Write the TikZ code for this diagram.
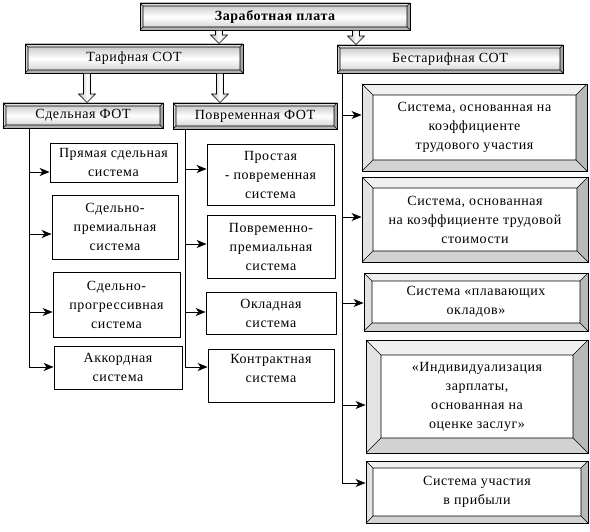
\documentclass[tikz,border=0pt]{standalone}
\usepackage{fontspec}
\setmainfont[LetterSpace=4]{Liberation Serif}
\usetikzlibrary{arrows.meta,calc}
\tikzset{
  bevel/.style args={#1/#2/#3/#4/#5}{
    path picture={
      \coordinate (bvnw) at (path picture bounding box.north west);
      \coordinate (bvne) at (path picture bounding box.north east);
      \coordinate (bvsw) at (path picture bounding box.south west);
      \coordinate (bvse) at (path picture bounding box.south east);
      \coordinate (bvinw) at ([xshift=#1pt,yshift=-#1pt]bvnw);
      \coordinate (bvine) at ([xshift=-#1pt,yshift=-#1pt]bvne);
      \coordinate (bvisw) at ([xshift=#1pt,yshift=#1pt]bvsw);
      \coordinate (bvise) at ([xshift=-#1pt,yshift=#1pt]bvse);
      \fill[#2] (bvnw) -- (bvne) -- (bvine) -- (bvinw) -- cycle;
      \fill[#3] (bvnw) -- (bvsw) -- (bvisw) -- (bvinw) -- cycle;
      \fill[#4] (bvne) -- (bvse) -- (bvise) -- (bvine) -- cycle;
      \fill[#5] (bvsw) -- (bvse) -- (bvise) -- (bvisw) -- cycle;
      \draw[line width=0.7pt] (bvinw) rectangle (bvise)
        (bvnw) -- (bvinw) (bvne) -- (bvine) (bvsw) -- (bvisw) (bvse) -- (bvise);
    }},
  hdr/.style={draw, line width=0.9pt, inner sep=0pt,
    top color=gray!50, bottom color=gray!40, middle color=white,
    bevel={3/gray!25/gray!35/gray!70/gray!60},
    font=\fontsize{14}{16}\selectfont},
  plainbox/.style={draw, line width=0.8pt, fill=white, inner sep=0pt,
    align=center, font=\fontsize{14}{19}\selectfont},
  rbox/.style={draw, line width=0.9pt, fill=white, inner sep=0pt,
    align=center, font=\fontsize{14}{19}\selectfont,
    bevel={#1/gray!12/gray!22/gray!55/gray!35}},
  conn/.style={line width=0.8pt, -{Stealth[length=10pt,width=8pt,inset=3pt]}},
  trunk/.style={line width=0.8pt}
}
\newcommand\blockarrow[2]{%
  \draw[line width=0.6pt, left color=gray!60, right color=gray!45, middle color=white]
    ([xshift=-3.5pt]#1) -- ([xshift=-3.5pt,yshift=8.5pt]#2) --
    ([xshift=-8.5pt,yshift=8.5pt]#2) -- (#2) --
    ([xshift=8.5pt,yshift=8.5pt]#2) -- ([xshift=3.5pt,yshift=8.5pt]#2) --
    ([xshift=3.5pt]#1) -- cycle;}
\begin{document}
\begin{tikzpicture}[x=1pt,y=-1pt]
\fill[white] (0,0) rectangle (590,532);
\useasboundingbox (0,0) rectangle (590,532);

% headers
\node[hdr, font=\fontsize{14}{16}\selectfont\bfseries, minimum width=270pt, minimum height=27pt] (zp) at (275,16.5) {Заработная плата};
\node[hdr, minimum width=218pt, minimum height=29pt] (tar) at (134,58.5) {Тарифная СОТ};
\node[hdr, minimum width=226pt, minimum height=28pt] (btar) at (450,59) {Бестарифная СОТ};
\node[hdr, minimum width=160pt, minimum height=25pt] (sdel) at (83,115.5) {Сдельная ФОТ};
\node[hdr, minimum width=164pt, minimum height=26pt] (povr) at (255,116) {Повременная ФОТ};

% block arrows
\coordinate (xa1) at (219,0);
\coordinate (xa2) at (356,0);
\coordinate (xa3) at (87,0);
\coordinate (xa4) at (220,0);
\coordinate (a1s) at (zp.south -| xa1);  \coordinate (a1e) at (tar.north -| xa1);
\coordinate (a2s) at (zp.south -| xa2);  \coordinate (a2e) at (btar.north -| xa2);
\coordinate (a3s) at (tar.south -| xa3); \coordinate (a3e) at (sdel.north -| xa3);
\coordinate (a4s) at (tar.south -| xa4); \coordinate (a4e) at (povr.north -| xa4);
\blockarrow{a1s}{a1e}
\blockarrow{a2s}{a2e}
\blockarrow{a3s}{a3e}
\blockarrow{a4s}{a4e}

% left column
\node[plainbox, minimum width=127pt, minimum height=39pt] (l1) at (113.5,162.5) {Прямая сдельная\\система};
\node[plainbox, minimum width=126pt, minimum height=64pt] (l2) at (115,227) {Сдельно-\\премиальная\\система};
\node[plainbox, minimum width=127pt, minimum height=65pt] (l3) at (116.5,304.5) {Сдельно-\\прогрессивная\\система};
\node[plainbox, minimum width=128pt, minimum height=43pt] (l4) at (118,367.5) {Аккордная\\система};

% middle column
\node[plainbox, minimum width=127pt, minimum height=61pt] (m1) at (270.5,174.5) {Простая\\- повременная\\система};
\node[plainbox, minimum width=128pt, minimum height=63pt] (m2) at (271,246.5) {Повременно-\\премиальная\\система};
\node[plainbox, minimum width=130pt, minimum height=42pt] (m3) at (271,313) {Окладная\\система};
\node[plainbox, minimum width=126pt, minimum height=53pt] (m4) at (271,375.5) {Контрактная\\система\\[-5pt]\mbox{}};

% right column
\node[rbox=11, minimum width=225pt, minimum height=87pt] (r1) at (474.5,127.5) {Система, основанная на\\коэффициенте\\трудового участия};
\node[rbox=11, minimum width=226pt, minimum height=85pt] (r2) at (475,219.5) {Система, основанная\\на коэффициенте трудовой\\стоимости};
\node[rbox=8, minimum width=224pt, minimum height=58pt] (r3) at (476,302) {Система «плавающих\\окладов»};
\node[rbox=15, minimum width=222pt, minimum height=113pt] (r4) at (477,396.5) {«Индивидуализация\\зарплаты,\\основанная на\\оценке заслуг»};
\node[rbox=7, minimum width=222pt, minimum height=62pt] (r5) at (477,492) {Система участия\\в прибыли};

% trunks
\coordinate (tl) at (29,0);
\coordinate (tm) at (185,0);
\coordinate (tr) at (342,0);
\coordinate (lc1) at (29,172);  \coordinate (lc2) at (29,234);
\coordinate (lc3) at (29,312);  \coordinate (lc4) at (29,367);
\coordinate (mc1) at (185,169); \coordinate (mc2) at (185,244);
\coordinate (mc3) at (185,312); \coordinate (mc4) at (185,367);
\coordinate (rc1) at (342,115); \coordinate (rc2) at (342,217);
\coordinate (rc3) at (342,303); \coordinate (rc4) at (342,405);
\coordinate (rc5) at (342,483);

\draw[trunk] (sdel.south -| tl) -- (lc4);
\draw[trunk] (povr.south -| tm) -- (mc4);
\draw[trunk] (btar.south -| tr) -- (rc5);

\draw[conn] (lc1) -- (lc1 -| l1.west);
\draw[conn] (lc2) -- (lc2 -| l2.west);
\draw[conn] (lc3) -- (lc3 -| l3.west);
\draw[conn] (lc4) -- (lc4 -| l4.west);
\draw[conn] (mc1) -- (mc1 -| m1.west);
\draw[conn] (mc2) -- (mc2 -| m2.west);
\draw[conn] (mc3) -- (mc3 -| m3.west);
\draw[conn] (mc4) -- (mc4 -| m4.west);
\draw[conn] (rc1) -- (rc1 -| r1.west);
\draw[conn] (rc2) -- (rc2 -| r2.west);
\draw[conn] (rc3) -- (rc3 -| r3.west);
\draw[conn] (rc4) -- (rc4 -| r4.west);
\draw[conn] (rc5) -- (rc5 -| r5.west);
\end{tikzpicture}
\end{document}
